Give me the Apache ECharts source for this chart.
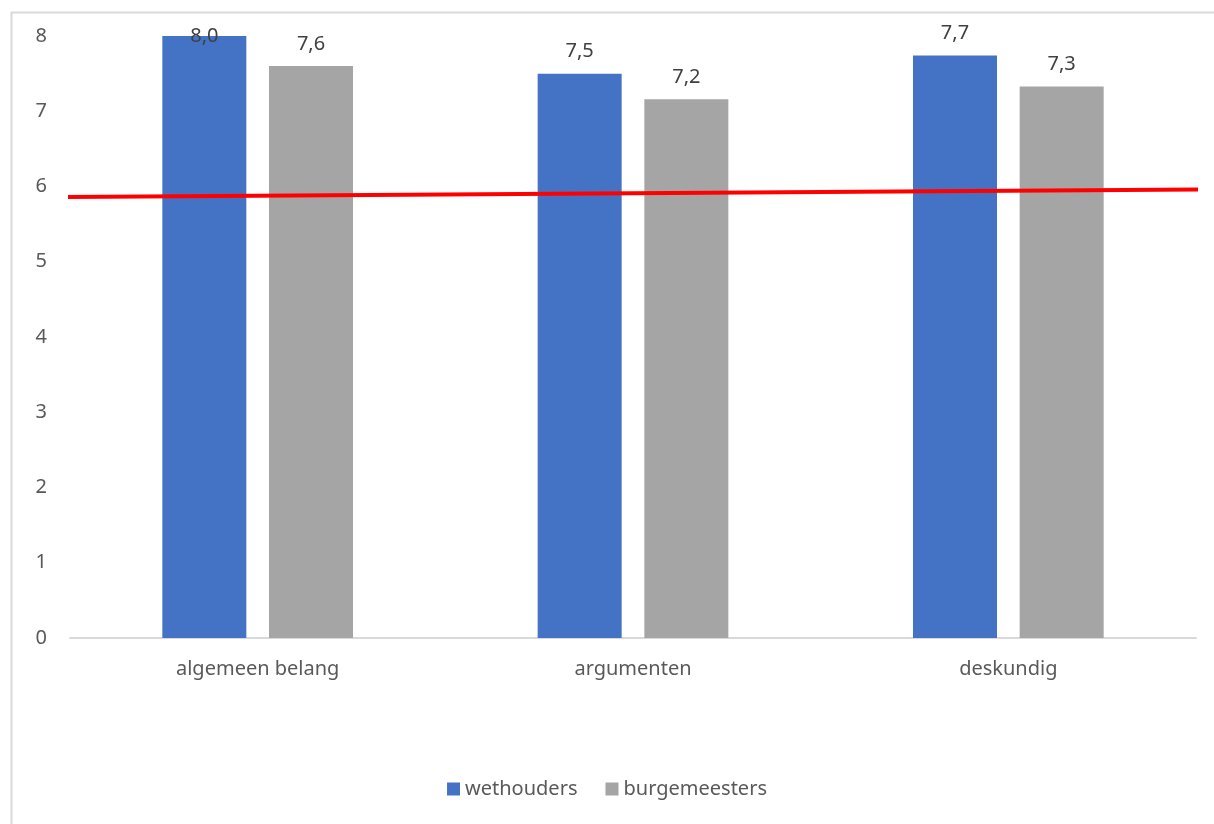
<!DOCTYPE html>
<html>
<head>
<meta charset="utf-8">
<script src="https://cdn.jsdelivr.net/npm/echarts@6/dist/echarts.min.js"></script>
<style>
html,body{margin:0;padding:0;background:#fff;}
#chart{width:1214px;height:824px;}
</style>
</head>
<body>
<div id="chart"></div>
<script>
const categories = ['algemeen belang', 'argumenten', 'deskundig'];
const wethouders = [8.0, 7.5, 7.74];
const burgemeesters = [7.6, 7.16, 7.33];
const seriesNames = ['wethouders', 'burgemeesters'];
const yTicks = [0, 1, 2, 3, 4, 5, 6, 7, 8];
// red reference line: [relative x across plot, value]
const refLine = [[-0.011, 5.86], [1.004, 5.96]];

const FONT = 'Noto Sans';
const fmt = p => p.value.toFixed(1).replace('.', ',');
const labelBase = {show: true, position: 'top', distance: 12, color: '#404040', fontSize: 20, fontFamily: FONT, formatter: fmt};

const chart = echarts.init(document.getElementById('chart'));
chart.setOption({
  animation: false,
  backgroundColor: '#fff',
  graphic: [{
    type: 'rect', left: 9, top: 10, shape: {width: 1300, height: 900},
    style: {fill: 'none', stroke: '#d9d9d9', lineWidth: 2}, silent: true, z: -1
  }],
  grid: {left: 70, right: 18, top: 36, bottom: 186, containLabel: false},
  legend: {
    data: seriesNames, bottom: 20, left: 'center', icon: 'rect', itemWidth: 13, itemHeight: 13, itemGap: 28,
    textStyle: {color: '#595959', fontSize: 20, fontFamily: FONT}
  },
  xAxis: [{
    type: 'category', data: categories,
    axisLine: {show: true, lineStyle: {color: '#d9d9d9', width: 2}},
    axisTick: {show: false},
    axisLabel: {color: '#595959', fontSize: 20, fontFamily: FONT, margin: 21}
  }, {
    type: 'value', min: 0, max: 1, show: false
  }],
  yAxis: {
    type: 'value', min: yTicks[0], max: yTicks[yTicks.length - 1], interval: 1,
    axisLine: {show: false}, axisTick: {show: false}, splitLine: {show: false},
    axisLabel: {color: '#595959', fontSize: 20, fontFamily: FONT, margin: 23}
  },
  series: [{
    name: seriesNames[0], type: 'bar', data: wethouders.map((v, i) => i === 0 ? {value: v, label: {distance: -10}} : v),
    itemStyle: {color: '#4472C4'}, barWidth: 84, barGap: '27%', label: labelBase
  }, {
    name: seriesNames[1], type: 'bar', data: burgemeesters,
    itemStyle: {color: '#A5A5A5'}, barWidth: 84, label: labelBase
  }, {
    type: 'line', xAxisIndex: 1, data: refLine, clip: false, symbol: 'none',
    lineStyle: {color: '#ff0000', width: 4}, z: 5, silent: true
  }]
});
</script>
</body>
</html>
